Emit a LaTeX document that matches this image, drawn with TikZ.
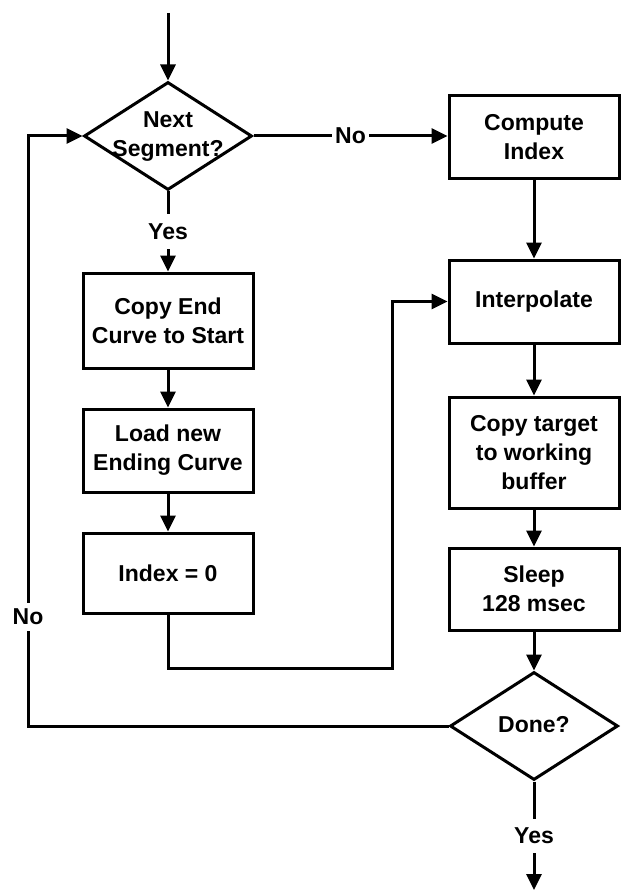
\documentclass[tikz,border=0pt]{standalone}
\usepackage{fontspec}
\setmainfont{Liberation Sans}
\usetikzlibrary{shapes.geometric,arrows.meta}
\begin{document}
\begin{tikzpicture}[x=1pt,y=-1pt,
  line width=3pt,
  every node/.style={font=\fontsize{23}{29}\selectfont\bfseries, align=center},
  box/.style={draw, rectangle, minimum width=170pt, minimum height=#1, inner sep=0pt},
  dia/.style={draw, diamond, minimum width=168pt, minimum height=108pt, inner sep=0pt},
  arr/.style={-{Triangle[length=16pt,width=15pt]}},
  lblv/.style={fill=white, inner xsep=3pt, inner ysep=9pt},
  lblh/.style={fill=white, inner xsep=3pt, inner ysep=2pt},
  lblside/.style={fill=white, inner xsep=3pt, inner ysep=6pt}
]
\useasboundingbox (0,0) rectangle (621,893);

% nodes
\node[dia] (d1) at (168,136) {};
\node (d1t) at (168,137) {Next\\Segment?};
\node[box=83pt] (c1) at (534,137) {Compute\\Index};
\node[box=83pt] (c2) at (534,301.5) {Interpolate};
\node[box=111pt] (c3) at (534,452.5) {Copy target\\to working\\buffer};
\node[box=82pt] (c4) at (534,589) {Sleep\\128 msec};
\node[dia] (d2) at (534,726) {};
\node (d2t) at (534,725) {Done?};
\node[box=95pt] (b1) at (168,320.5) {Copy End\\Curve to Start};
\node[box=83pt] (b2) at (168,450.5) {Load new\\Ending Curve};
\node[box=80pt] (b3) at (168,573) {Index = 0};

\coordinate (start) at (168,13);
\coordinate (finish) at (534,890);
\coordinate (lx) at (28,617);
\coordinate (bend1) at (392,668);

% connectors
\draw[arr] (start) -- (d1.north);
\draw[arr] (d1.east) -- node[lblh] {No} (d1.east -| c1.west);
\draw[arr] (d1.south) -- node[lblv] {Yes} (b1.north);
\draw[arr] (b1.south) -- (b2.north);
\draw[arr] (b2.south) -- (b3.north);
\draw[arr] (b3.south) |- (bend1) |- (c2.west);
\draw[arr] (c1.south) -- (c2.north);
\draw[arr] (c2.south) -- (c3.north);
\draw[arr] (c3.south) -- (c4.north);
\draw[arr] (c4.south) -- (d2.north);
\draw[arr] (d2.south) -- node[lblv] {Yes} (finish);
\draw[arr] (d2.west) -| (lx) node[lblside] {No} |- (d1.west);
\end{tikzpicture}
\end{document}
